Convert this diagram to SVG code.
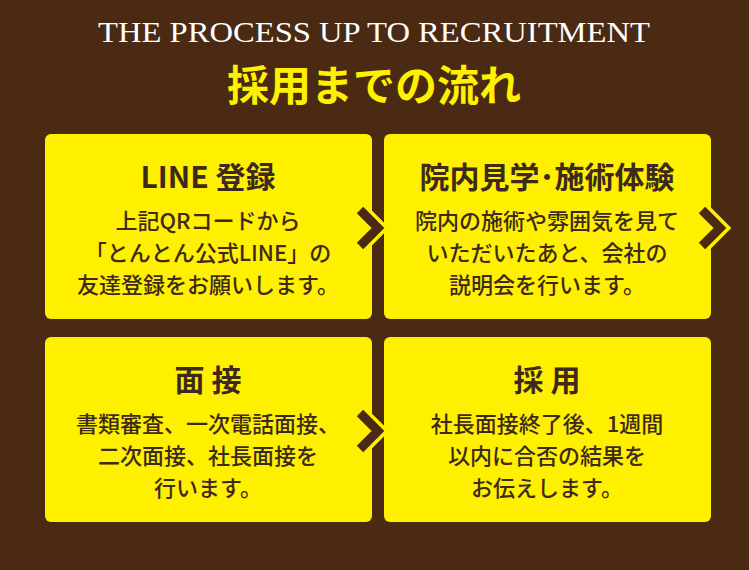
<svg xmlns="http://www.w3.org/2000/svg" width="749" height="570" viewBox="0 0 749 570">
<style>
.box{fill:#fff000}
.h{font-family:"Noto Sans CJK JP","Noto Sans",sans-serif;font-weight:bold;font-size:30px;fill:#3d2a1a;text-anchor:middle}
.t{font-family:"Noto Sans CJK JP","Noto Sans",sans-serif;font-weight:500;font-size:22px;fill:#3d2a1a;text-anchor:middle}
.chev{fill:none;stroke:#fff000;stroke-width:16;stroke-linejoin:miter}
.chev2{fill:none;stroke:#4a2a12;stroke-width:9;stroke-linejoin:miter}
</style>
<rect width="749" height="570" fill="#4a2a12"/>
<text x="374" y="42" font-family="Liberation Serif,serif" font-size="30" fill="#fff" text-anchor="middle" textLength="552" lengthAdjust="spacingAndGlyphs">THE PROCESS UP TO RECRUITMENT</text>
<text x="374" y="101" font-family="Noto Sans CJK JP,sans-serif" font-weight="bold" font-size="42" fill="#fff000" text-anchor="middle">採用までの流れ</text>
<g id="n1"><rect class="box" x="45" y="134" width="327" height="185" rx="6"/>
<text class="h" x="208" y="188">LINE 登録</text>
<text class="t" x="208" y="229">上記QRコードから</text><text class="t" x="208" y="261">「とんとん公式LINE」の</text><text class="t" x="208" y="293">友達登録をお願いします。</text></g>
<g id="n2"><rect class="box" x="384" y="134" width="327" height="185" rx="6"/>
<text class="h" x="547" y="188">院内見学･施術体験</text>
<text class="t" x="547" y="229">院内の施術や雰囲気を見て</text><text class="t" x="547" y="261">いただいたあと、会社の</text><text class="t" x="547" y="293">説明会を行います。</text></g>
<g id="n3"><rect class="box" x="45" y="337" width="327" height="185" rx="6"/>
<text class="h" x="208" y="391">面 接</text>
<text class="t" x="208" y="432">書類審査、一次電話面接、</text><text class="t" x="208" y="464">二次面接、社長面接を</text><text class="t" x="208" y="496">行います。</text></g>
<g id="n4"><rect class="box" x="384" y="337" width="327" height="185" rx="6"/>
<text class="h" x="547" y="391">採 用</text>
<text class="t" x="547" y="432">社長面接終了後、1週間</text><text class="t" x="547" y="464">以内に合否の結果を</text><text class="t" x="547" y="496">お伝えします。</text></g>
<g id="connectors">
<path class="chev" d="M360 210 L378 228 L360 246"/><path class="chev2" d="M360 210 L378 228 L360 246"/>
<path class="chev" d="M702 210 L720 228 L702 246"/><path class="chev2" d="M702 210 L720 228 L702 246"/>
<path class="chev" d="M360 413 L378 431 L360 449"/><path class="chev2" d="M360 413 L378 431 L360 449"/>
</g>
</svg>
